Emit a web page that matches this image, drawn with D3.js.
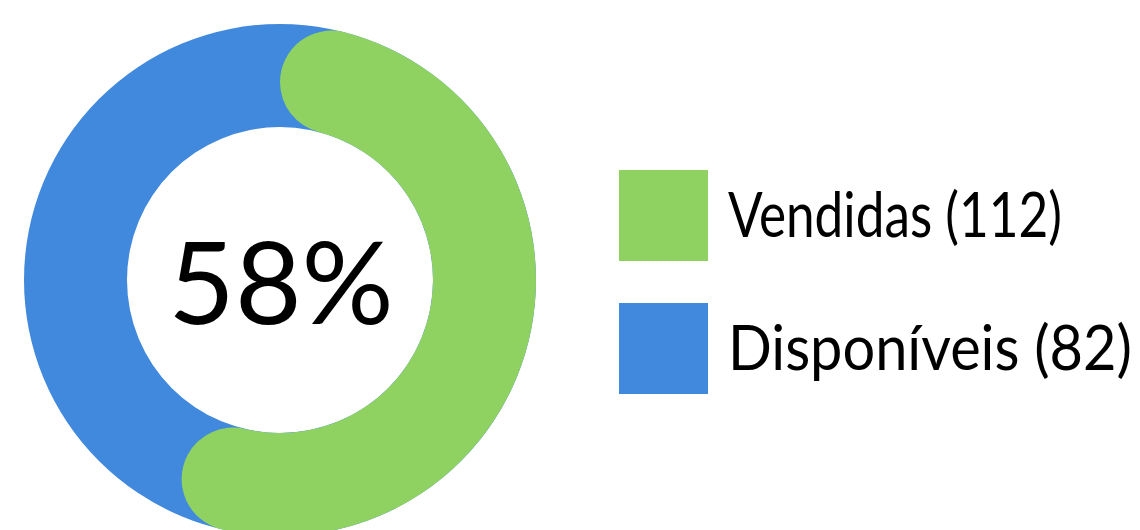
<!DOCTYPE html>
<html>
<head>
<meta charset="utf-8">
<script src="https://cdn.jsdelivr.net/npm/d3@7"></script>
<style>
  body { margin: 0; background: #fff; }
  svg { display: block; font-family: Lato, "Open Sans", sans-serif; }
</style>
</head>
<body>
<div class="chart"></div>
<script>
let categories = ["Vendidas", "Disponíveis"];
let values = [112, 82];
let colors = ["#8fd262", "#4189dd"];
let centerLabel = "58%";

let width = 1140, height = 530;
let cx = 280, cy = 280;
let outerR = 256, innerR = 153;

let svg = d3.select(".chart")
    .append("svg")
        .attr("width", width)
        .attr("height", height);

let total = d3.sum(values);
let angle = d3.scaleLinear()
    .domain([0, total])
    .range([0, 2 * Math.PI]);

let g = svg.append("g")
    .attr("transform", `translate(${cx}, ${cy})`);

// blue ring sits behind the whole donut
g.append("path")
    .attr("d", d3.arc()
        .innerRadius(innerR)
        .outerRadius(outerR)
        .startAngle(0)
        .endAngle(2 * Math.PI)())
    .attr("fill", colors[1]);

// green share with rounded ends
g.append("path")
    .attr("d", d3.arc()
        .innerRadius(innerR)
        .outerRadius(outerR)
        .cornerRadius((outerR - innerR) / 2)
        .startAngle(angle(0))
        .endAngle(angle(values[0]))())
    .attr("fill", colors[0]);

g.append("text")
    .attr("text-anchor", "middle")
    .attr("x", 1)
    .attr("y", 44)
    .style("font-size", "115px")
    .attr("fill", "#000")
    .text(centerLabel);

let legend = svg.append("g")
    .attr("transform", "translate(619, 170)");

let item = legend.selectAll("g")
    .data(categories)
    .enter()
    .append("g")
    .attr("transform", (d, i) => `translate(0, ${i * 133})`);

item.append("rect")
    .attr("width", 89)
    .attr("height", 91)
    .attr("fill", (d, i) => colors[i]);

// the original face is narrower than Lato, so squeeze each label horizontally
let labelWidths = [334, 404];
item.append("text")
    .style("font-size", "62px")
    .attr("fill", "#000")
    .text((d, i) => `${d} (${values[i]})`)
    .attr("transform", function(d, i) {
        let sx = labelWidths[i] / this.getComputedTextLength();
        return `translate(109, 67) scale(${sx}, 1)`;
    });
</script>
</body>
</html>
